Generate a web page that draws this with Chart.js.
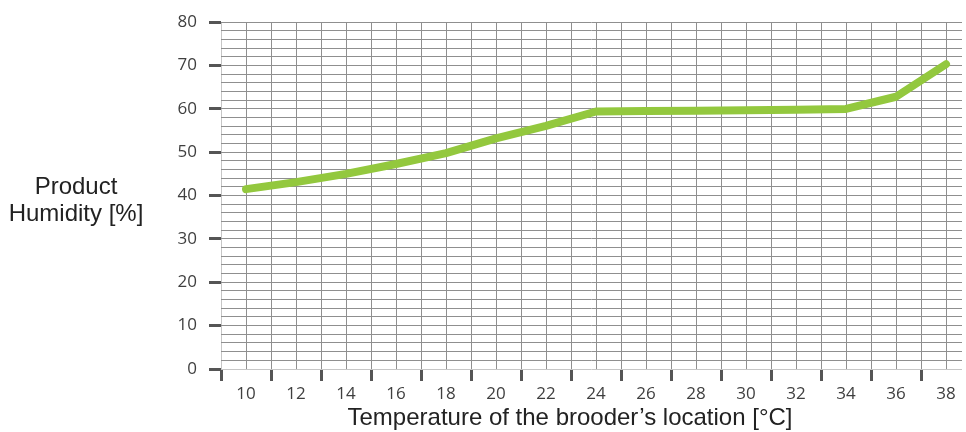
<!DOCTYPE html>
<html>
<head>
<meta charset="utf-8">
<script src="https://cdn.jsdelivr.net/npm/chart.js@4/dist/chart.umd.min.js"></script>
<style>
  html, body { margin: 0; padding: 0; background: #fff; }
</style>
</head>
<body>
<canvas id="grafico" width="966" height="432"></canvas>
<script>
  // Datos
  const temperaturas = [10, 12, 14, 16, 18, 20, 22, 24, 26, 28, 30, 32, 34, 36, 38];
  const humedad = [41.5, 43.1, 45.0, 47.3, 49.8, 53.2, 56.1, 59.4, 59.5, 59.6, 59.7, 59.8, 60.0, 62.8, 70.3];
  const tituloY = ['Product', 'Humidity [%]'];
  const tituloX = 'Temperature of the brooder\u2019s location [\u00B0C]';

  const colorRejilla = '#8f8f8f';
  const colorBorde = '#c6c6c6';
  const colorMarca = '#555555';
  const fuenteTitulo = '24px "Liberation Sans", Arial, sans-serif';

  // Títulos de los ejes dibujados a mano (el de Y va en horizontal)
  const titulos = {
      id: 'titulos',
      afterDraw(chart) {
          const c = chart.ctx;
          c.save();
          c.font = fuenteTitulo;
          c.fillStyle = '#222';
          c.textAlign = 'center';
          c.textBaseline = 'middle';
          c.fillText(tituloY[0], 76, 187);
          c.fillText(tituloY[1], 76, 214);
          c.fillText(tituloX, 570, 418);
          c.restore();
      }
  };

  let ctx = document.getElementById('grafico').getContext('2d');
  let grafico = new Chart(ctx, {
      type: 'line',
      data: {
          datasets: [{
              data: temperaturas.map((t, i) => ({ x: t, y: humedad[i] })),
              borderColor: '#93c83e',
              borderWidth: 8,
              borderCapStyle: 'round',
              borderJoinStyle: 'round',
              pointRadius: 0,
              tension: 0
          }]
      },
      options: {
          responsive: false,
          animation: false,
          layout: { padding: { top: 20, right: 4, bottom: 0, left: 0 } },
          plugins: {
              legend: { display: false },
              tooltip: { enabled: false }
          },
          scales: {
              x: {
                  type: 'linear',
                  min: 9,
                  max: 38.64,
                  afterFit: s => { s.height = 63; },
                  border: { display: false },
                  grid: {
                      color: c => c.tick && c.tick.value === 9 ? colorBorde : colorRejilla,
                      lineWidth: 1,
                      tickLength: 12,
                      tickWidth: 3,
                      tickColor: c => c.tick && c.tick.value % 2 === 1 ? colorMarca : 'rgba(0,0,0,0)'
                  },
                  ticks: {
                      stepSize: 1,
                      includeBounds: false,
                      autoSkip: false,
                      maxRotation: 0,
                      minRotation: 0,
                      padding: 3,
                      color: '#3f3f3f',
                      font: { family: '"Open Sans", sans-serif', size: 17 },
                      callback: v => v % 2 === 0 ? v : ''
                  }
              },
              y: {
                  min: 0,
                  max: 80,
                  afterFit: s => { s.width = 221; },
                  border: { display: false },
                  grid: {
                      color: c => c.tick && c.tick.value === 0 ? colorBorde : colorRejilla,
                      lineWidth: 1,
                      tickLength: 12,
                      tickWidth: 3,
                      tickColor: c => c.tick && c.tick.value % 10 === 0 ? colorMarca : 'rgba(0,0,0,0)'
                  },
                  ticks: {
                      stepSize: 2,
                      autoSkip: false,
                      padding: 12,
                      color: '#3f3f3f',
                      font: { family: '"Open Sans", sans-serif', size: 17 },
                      callback: v => v % 10 === 0 ? v : ''
                  }
              }
          }
      },
      plugins: [titulos]
  });
</script>
</body>
</html>
